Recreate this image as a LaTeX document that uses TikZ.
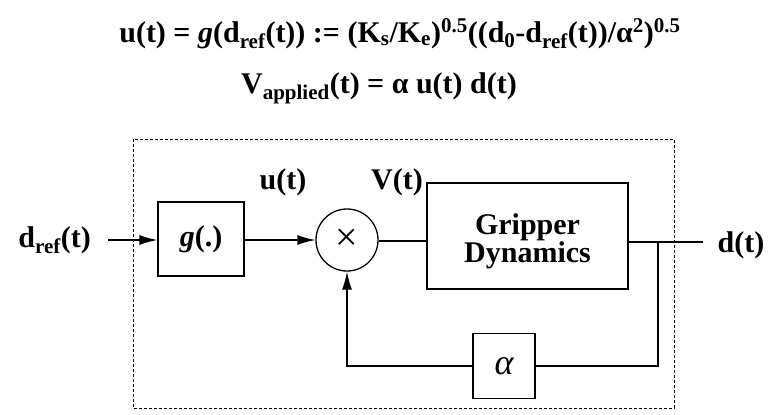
\documentclass[tikz,border=0pt]{standalone}
\usepackage{fontspec}
\setmainfont{Liberation Serif}
\usetikzlibrary{arrows.meta}
\newcommand{\sbx}[1]{\textsubscript{#1}}
\newcommand{\spx}[1]{\textsuperscript{#1}}
\begin{document}
\begin{tikzpicture}[x=1pt,y=-1pt,
  every node/.style={font=\fontsize{30}{23}\selectfont\bfseries, inner sep=0pt},
  blk/.style={draw, line width=1.3pt, rectangle},
  conn/.style={line width=1.3pt},
  arr/.style={line width=1.3pt, -{Latex[length=18pt,width=10pt]}},
  dashbox/.style={draw, line width=1pt, dash pattern=on 3pt off 2pt}]
\useasboundingbox (0,0) rectangle (769,415);
% equations
\node[anchor=base] (eq1) at (400,42) {u(t) = \textit{g}(d\sbx{ref}(t)) := (K\sbx{s}/K\sbx{e})\spx{0.5}((d\sbx{0}-d\sbx{ref}(t))/α\spx{2})\spx{0.5}};
\node[anchor=base] (eq2) at (379,93) {V\sbx{applied}(t) = α u(t) d(t)};
% dashed box
\draw[dashbox] (133,139) rectangle (674,408);
% blocks
\node[blk, minimum width=86pt, minimum height=74pt] (g) at (201,239) {\textit{g}(.)};
\node[draw, circle, line width=1.3pt, minimum size=62pt] (m) at (347,240) {};
\node (x) at (347,240) {\fontsize{40}{40}\selectfont\mdseries ×};
\node[blk, minimum width=201pt, minimum height=106pt] (gd) at (527.5,236) {};
\node[align=center] (gdt) at (527.5,241) {Gripper\\Dynamics};
\node[blk, minimum width=62pt, minimum height=65pt] (a) at (504,366) {\fontsize{36}{36}\selectfont\mdseries\itshape α};
% labels
\node[anchor=east] (dref) at (91,240) {d\sbx{ref}(t)};
\node (u) at (283,182) {u(t)};
\node (v) at (397,182) {V(t)};
\node (d) at (741,245) {d(t)};
\coordinate (in) at (108,240);
\coordinate (out) at (703,242);
\coordinate (br) at (658,242);
% connectors
\draw[arr] (in) -- (g.west |- in);
\draw[arr] (g.east |- m) -- (m.west);
\draw[conn] (m.east |- 0,241) -- (gd.west |- 0,241);
\draw[conn] (gd.east |- out) -- (out);
\draw[conn] (br) |- (a.east);
\draw[arr] (a.west) -| (m.south);
\end{tikzpicture}
\end{document}
